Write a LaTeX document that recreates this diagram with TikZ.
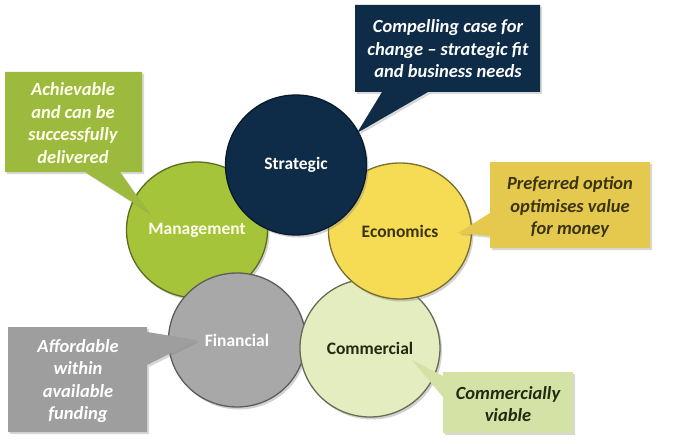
\documentclass[tikz,border=0pt]{standalone}
\usepackage{fontspec}
\setmainfont{Carlito}
\usetikzlibrary{shapes.geometric,shadows}
\definecolor{cMgmt}{HTML}{A5C43A}
\definecolor{cMgmtBox}{HTML}{9CBB3E}
\definecolor{cNavy}{HTML}{0E2B47}
\definecolor{cEcon}{HTML}{F6DC55}
\definecolor{cEconBox}{HTML}{E5C84E}
\definecolor{cFin}{HTML}{A8A8A8}
\definecolor{cFinBox}{HTML}{9E9E9E}
\definecolor{cComm}{HTML}{E3EDBF}
\definecolor{cCommBox}{HTML}{D5E2A6}
\definecolor{cDarkText}{HTML}{3B3410}
\definecolor{cGreenText}{HTML}{1F2A10}
\begin{document}
\begin{tikzpicture}[x=1pt,y=-1pt,
  circ/.style={ellipse, inner sep=0pt, line width=1.3pt,
    drop shadow={shadow xshift=2pt,shadow yshift=-2.5pt,opacity=0.35},
    font=\fontsize{17.5}{20}\selectfont\bfseries},
  callout/.style={drop shadow={shadow xshift=2pt,shadow yshift=-2pt,opacity=0.3}},
  ctext/.style={align=center, inner sep=0pt, font=\fontsize{18.5}{22.5}\selectfont\bfseries\itshape}]
\useasboundingbox (0,0) rectangle (689,444);
\fill[white] (0,0) rectangle (689,444);
% circles (drawing order gives the overlaps)
\node[circ, fill=cMgmt, draw=cMgmt!55!black, minimum width=141pt, minimum height=136pt,
  text=white!92!yellow] (mgmt) at (197,230) {Management};
\node[circ, fill=cFin, draw=cFin!55!black, minimum width=137pt, minimum height=134pt,
  text=white] (fin) at (237,340) {Financial};
\node[circ, fill=cComm, draw=cComm!45!black, minimum width=140pt, minimum height=138pt,
  text=cGreenText] (comm) at (370,348) {Commercial};
\node[circ, fill=cEcon, draw=cEcon!50!black, minimum width=143pt, minimum height=136pt,
  text=cDarkText] (econ) at (400,231) {Economics};
\node[circ, fill=cNavy, draw=cNavy!60!black, minimum width=141pt, minimum height=140pt,
  text=white] (strat) at (296,165) {Strategic};
% callouts
\fill[cMgmtBox, callout] (5,72) -- (142,72) -- (142,172) -- (120,172) -- (148,212)
  -- (85,172) -- (5,172) -- cycle;
\node[ctext, text=white!92!yellow] (tmgmt) at (73,123) {Achievable\\and can be\\successfully\\delivered};
\fill[cNavy, callout] (355,5) -- (540,5) -- (540,92) -- (428,92) -- (357,133)
  -- (382,92) -- (355,92) -- cycle;
\node[ctext, text=white] (tstrat) at (448,49) {Compelling case for\\change -- strategic fit\\and business needs};
\fill[cEconBox, callout] (490,162) -- (650,162) -- (650,248) -- (490,248) -- (490,236)
  -- (458,233) -- (490,213) -- cycle;
\node[ctext, text=cDarkText] (tecon) at (570,207) {Preferred option\\optimises value\\for money};
\fill[cFinBox, callout] (8,327) -- (147,327) -- (147,332) -- (197,340) -- (147,365)
  -- (147,432) -- (8,432) -- cycle;
\node[ctext, text=white] (tfin) at (78,381) {Affordable\\within\\available\\funding};
\fill[cCommBox, callout] (443,372) -- (573,372) -- (573,433) -- (443,433) -- (443,397)
  -- (412,360) -- (443,376) -- cycle;
\node[ctext, text=cGreenText] (tcomm) at (508,404) {Commercially\\viable};
\end{tikzpicture}
\end{document}
